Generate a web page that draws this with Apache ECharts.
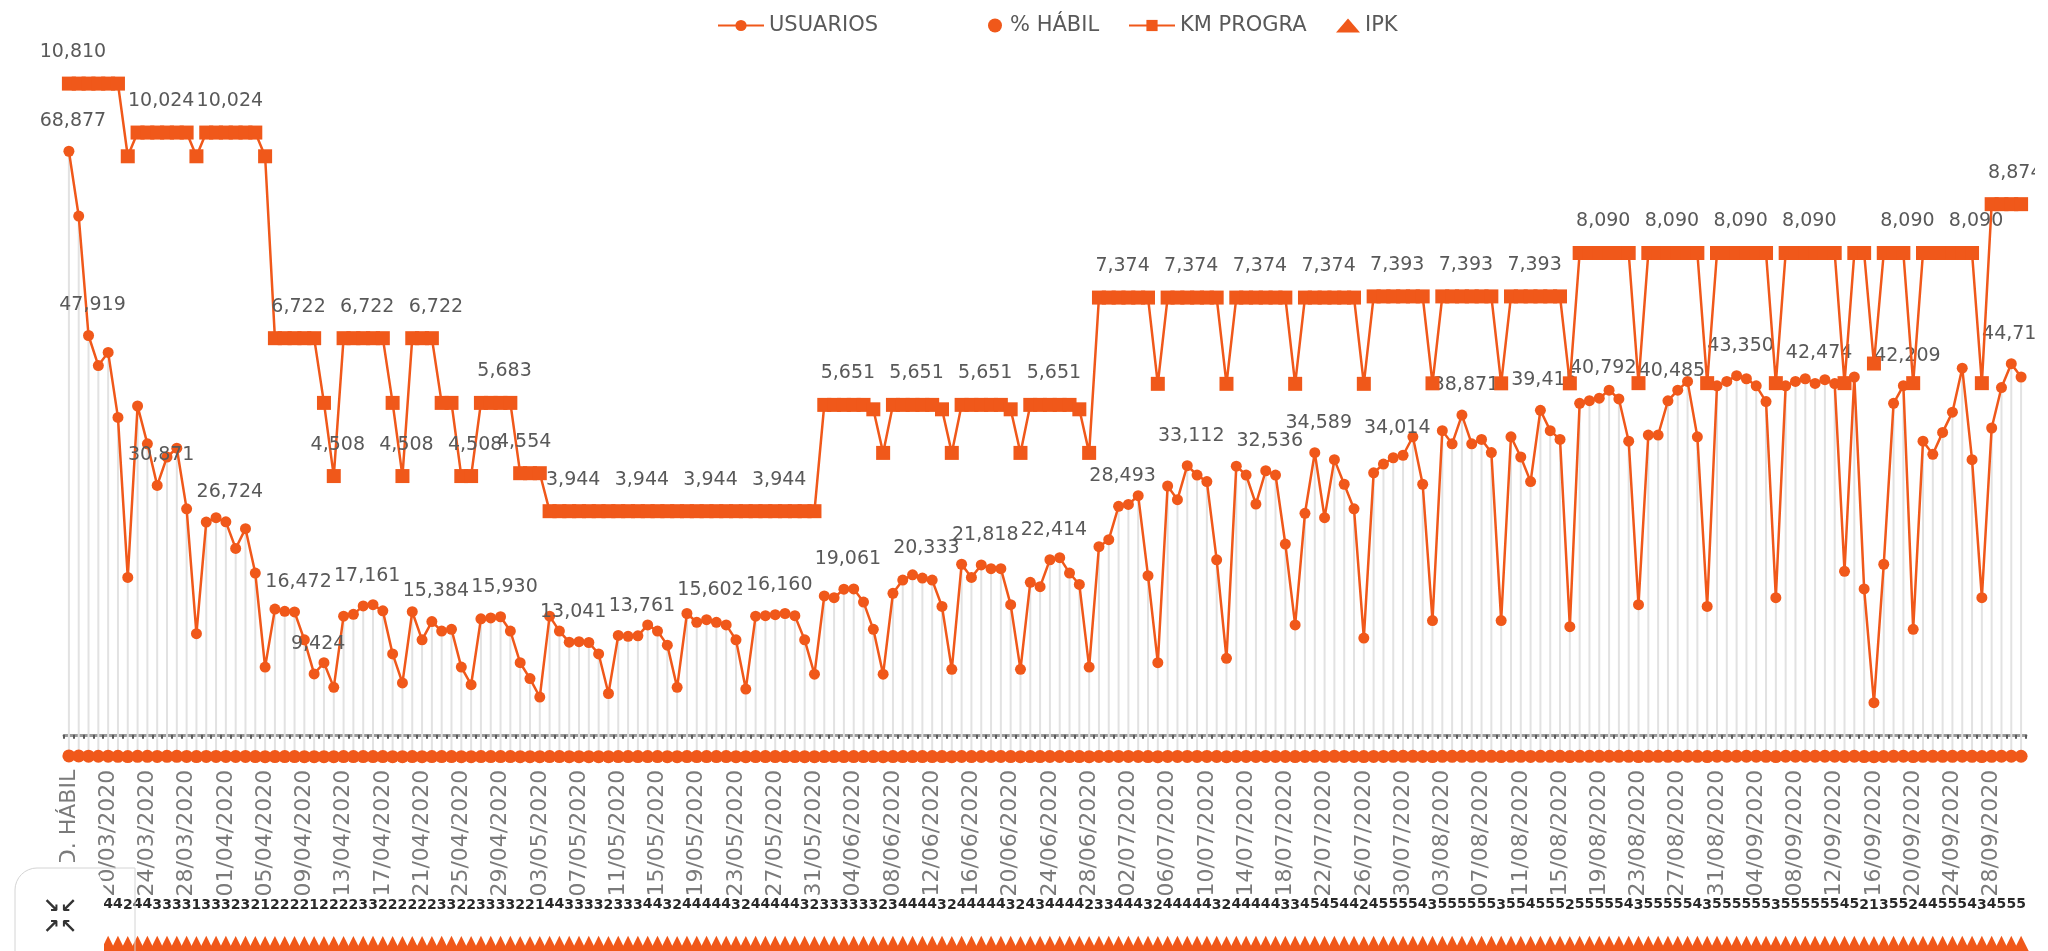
<!DOCTYPE html>
<html>
<head>
<meta charset="utf-8">
<script src="https://cdn.jsdelivr.net/npm/echarts@6/dist/echarts.min.js"></script>
<style>
  html, body { margin: 0; padding: 0; background: #ffffff; }
  #chart { width: 2035px; height: 951px; }
</style>
</head>
<body>
<div id="chart"></div>
<script>
// Categories: weekday average first, then one entry per day
const CATEGORIES = ['PROM. D. HÁBIL',
  '17/03/2020','18/03/2020','19/03/2020','20/03/2020','21/03/2020','22/03/2020','23/03/2020','24/03/2020','25/03/2020','26/03/2020','27/03/2020','28/03/2020','29/03/2020','30/03/2020','31/03/2020',
  '01/04/2020','02/04/2020','03/04/2020','04/04/2020','05/04/2020','06/04/2020','07/04/2020','08/04/2020','09/04/2020','10/04/2020','11/04/2020','12/04/2020','13/04/2020','14/04/2020','15/04/2020',
  '16/04/2020','17/04/2020','18/04/2020','19/04/2020','20/04/2020','21/04/2020','22/04/2020','23/04/2020','24/04/2020','25/04/2020','26/04/2020','27/04/2020','28/04/2020','29/04/2020','30/04/2020',
  '01/05/2020','02/05/2020','03/05/2020','04/05/2020','05/05/2020','06/05/2020','07/05/2020','08/05/2020','09/05/2020','10/05/2020','11/05/2020','12/05/2020','13/05/2020','14/05/2020','15/05/2020',
  '16/05/2020','17/05/2020','18/05/2020','19/05/2020','20/05/2020','21/05/2020','22/05/2020','23/05/2020','24/05/2020','25/05/2020','26/05/2020','27/05/2020','28/05/2020','29/05/2020','30/05/2020','31/05/2020',
  '01/06/2020','02/06/2020','03/06/2020','04/06/2020','05/06/2020','06/06/2020','07/06/2020','08/06/2020','09/06/2020','10/06/2020','11/06/2020','12/06/2020','13/06/2020','14/06/2020','15/06/2020',
  '16/06/2020','17/06/2020','18/06/2020','19/06/2020','20/06/2020','21/06/2020','22/06/2020','23/06/2020','24/06/2020','25/06/2020','26/06/2020','27/06/2020','28/06/2020','29/06/2020','30/06/2020',
  '01/07/2020','02/07/2020','03/07/2020','04/07/2020','05/07/2020','06/07/2020','07/07/2020','08/07/2020','09/07/2020','10/07/2020','11/07/2020','12/07/2020','13/07/2020','14/07/2020','15/07/2020',
  '16/07/2020','17/07/2020','18/07/2020','19/07/2020','20/07/2020','21/07/2020','22/07/2020','23/07/2020','24/07/2020','25/07/2020','26/07/2020','27/07/2020','28/07/2020','29/07/2020','30/07/2020','31/07/2020',
  '01/08/2020','02/08/2020','03/08/2020','04/08/2020','05/08/2020','06/08/2020','07/08/2020','08/08/2020','09/08/2020','10/08/2020','11/08/2020','12/08/2020','13/08/2020','14/08/2020','15/08/2020',
  '16/08/2020','17/08/2020','18/08/2020','19/08/2020','20/08/2020','21/08/2020','22/08/2020','23/08/2020','24/08/2020','25/08/2020','26/08/2020','27/08/2020','28/08/2020','29/08/2020','30/08/2020','31/08/2020',
  '01/09/2020','02/09/2020','03/09/2020','04/09/2020','05/09/2020','06/09/2020','07/09/2020','08/09/2020','09/09/2020','10/09/2020','11/09/2020','12/09/2020','13/09/2020','14/09/2020','15/09/2020',
  '16/09/2020','17/09/2020','18/09/2020','19/09/2020','20/09/2020','21/09/2020','22/09/2020','23/09/2020','24/09/2020','25/09/2020','26/09/2020','27/09/2020','28/09/2020','29/09/2020','30/09/2020',
  '01/10/2020'];

// Daily riders
const USUARIOS = [
  68877,61500,47919,44500,46000,38600,20400,39900,35600,30871,
  34100,35100,28200,14000,26700,27200,26724,23700,25950,20900,
  10200,16800,16550,16472,13300,9424,10700,7900,16000,16200,
  17161,17300,16600,11700,8400,16500,13300,15384,14300,14500,
  10200,8200,15700,15800,15930,14300,10700,8900,6800,16000,
  14300,13041,13100,13000,11700,7200,13800,13700,13761,15000,
  14300,12700,7900,16300,15300,15602,15300,15000,13300,7700,
  16000,16050,16160,16300,16050,13300,9400,18300,18100,19061,
  19100,17600,14500,9400,18600,20100,20700,20333,20100,17100,
  9950,21900,20400,21818,21400,21400,17300,9950,19850,19350,
  22414,22650,20900,19600,10200,23900,24700,28493,28700,29700,
  20600,10700,30800,29250,33112,32050,31300,22400,11200,33060,
  32050,28750,32536,32050,24200,15000,27700,34589,27200,33800,
  31000,28200,13500,32300,33300,34014,34300,36400,31000,15500,
  37100,35600,38871,35600,36100,34600,15500,36400,34100,31300,
  39415,37100,36100,14800,40200,40500,40792,41700,40700,35900,
  17300,36600,36600,40485,41700,42700,36400,17100,42200,42700,
  43350,43000,42200,40400,18100,42200,42700,43000,42474,42900,
  42450,21100,43200,19100,6150,21900,40200,42209,14500,35900,
  34400,36900,39200,44200,33800,18100,37400,42000,44714,43200];

// Scheduled kilometres
const KM_PROGRA = [
  10810,10810,10810,10810,10810,10810,9643,10024,10024,10024,
  10024,10024,10024,9643,10024,10024,10024,10024,10024,10024,
  9643,6722,6722,6722,6722,6722,5683,4508,6722,6722,
  6722,6722,6722,5683,4508,6722,6722,6722,5683,5683,
  4508,4508,5683,5683,5683,5683,4554,4554,4554,3944,
  3944,3944,3944,3944,3944,3944,3944,3944,3944,3944,
  3944,3944,3944,3944,3944,3944,3944,3944,3944,3944,
  3944,3944,3944,3944,3944,3944,3944,5651,5651,5651,
  5651,5651,5580,4880,5651,5651,5651,5651,5651,5580,
  4880,5651,5651,5651,5651,5651,5580,4880,5651,5651,
  5651,5651,5651,5580,4880,7374,7374,7374,7374,7374,
  7374,5989,7374,7374,7374,7374,7374,7374,5989,7374,
  7374,7374,7374,7374,7374,5989,7374,7374,7374,7374,
  7374,7374,5989,7393,7393,7393,7393,7393,7393,5997,
  7393,7393,7393,7393,7393,7393,5997,7393,7393,7393,
  7393,7393,7393,5997,8090,8090,8090,8090,8090,8090,
  6000,8090,8090,8090,8090,8090,8090,6000,8090,8090,
  8090,8090,8090,8090,6000,8090,8090,8090,8090,8090,
  8090,6000,8090,8090,6315,8090,8090,8090,6000,8090,
  8090,8090,8090,8090,8090,6000,8874,8874,8874,8874];

// Share of the average weekday (%)
const PCT_HABIL = [
  100,89,70,65,67,56,30,58,52,45,
  50,51,41,20,39,39,39,34,38,30,
  15,24,24,24,19,14,16,11,23,24,
  25,25,24,17,12,24,19,22,21,21,
  15,12,23,23,23,21,16,13,10,23,
  21,19,19,19,17,10,20,20,20,22,
  21,18,11,24,22,23,22,22,19,11,
  23,23,23,24,23,19,14,27,26,28,
  28,26,21,14,27,29,30,30,29,25,
  14,32,30,32,31,31,25,14,29,28,
  33,33,30,28,15,35,36,41,42,43,
  30,16,45,42,48,47,45,33,16,48,
  47,42,47,47,35,22,40,50,39,49,
  45,41,20,47,48,49,50,53,45,23,
  54,52,56,52,52,50,23,53,50,45,
  57,54,52,21,58,59,59,61,59,52,
  25,53,53,59,61,62,53,25,61,62,
  63,62,61,59,26,61,62,62,62,62,
  62,31,63,28,9,32,58,61,21,52,
  50,54,57,64,49,26,54,61,65,63];

// Passengers per kilometre
const IPK = [
  6,6,4,4,4,4,2,4,4,3,
  3,3,3,1,3,3,3,2,3,2,
  1,2,2,2,2,1,2,2,2,2,
  3,3,2,2,2,2,2,2,3,3,
  2,2,3,3,3,3,2,2,1,4,
  4,3,3,3,3,2,3,3,3,4,
  4,3,2,4,4,4,4,4,3,2,
  4,4,4,4,4,3,2,3,3,3,
  3,3,3,2,3,4,4,4,4,3,
  2,4,4,4,4,4,3,2,4,3,
  4,4,4,4,2,3,3,4,4,4,
  3,2,4,4,4,4,4,3,2,4,
  4,4,4,4,3,3,4,5,4,5,
  4,4,2,4,5,5,5,5,4,3,
  5,5,5,5,5,5,3,5,5,4,
  5,5,5,2,5,5,5,5,5,4,
  3,5,5,5,5,5,4,3,5,5,
  5,5,5,5,3,5,5,5,5,5,
  5,4,5,2,1,3,5,5,2,4,
  4,5,5,5,4,3,4,5,5,5];

// Points whose value is written on the chart
const USU_LABELS = [0,2,9,16,23,25,30,37,44,51,58,65,72,79,87,93,100,107,114,122,127,135,142,150,156,163,170,178,187,198];
const KM_LABELS = [0,9,16,23,27,30,34,37,41,44,46,51,58,65,72,79,86,93,100,107,114,121,128,135,142,149,156,163,170,177,187,194,198];

const ORANGE = '#F0581A';
const FONT = 'DejaVu Sans';
const fmt = v => String(v).replace(/\B(?=(\d{3})+(?!\d))/g, ',');

const withLabels = (values, idx) => values.map((v, i) =>
  idx.includes(i) ? { value: v, label: { show: true } } : v);

const GRID_LEFT = 64, GRID_WIDTH = 1962;

const chart = echarts.init(document.getElementById('chart'), null, { renderer: 'canvas' });

const legendBase = {
  top: 10, itemHeight: 14, itemGap: 0,
  textStyle: { fontFamily: FONT, fontSize: 21, color: '#595959' },
  selectedMode: false
};

const valueLabel = {
  show: false, position: 'top', distance: 15, offset: [4, 0],
  fontFamily: FONT, fontSize: 19, color: '#595959',
  formatter: p => fmt(p.value)
};

chart.setOption({
  animation: false,
  backgroundColor: '#ffffff',
  legend: [
    Object.assign({}, legendBase, { left: 712, itemWidth: 46, data: ['USUARIOS'] }),
    Object.assign({}, legendBase, { left: 983, itemWidth: 20, data: ['% HÁBIL'] }),
    Object.assign({}, legendBase, { left: 1123, itemWidth: 46, data: ['KM PROGRA'] }),
    Object.assign({}, legendBase, { left: 1331, itemWidth: 24, data: ['IPK'] })
  ],
  grid: [
    { left: GRID_LEFT, width: GRID_WIDTH, top: 9.5, height: 747.3, outerBoundsMode: 'none', containLabel: false },
    { left: GRID_LEFT, width: GRID_WIDTH, top: 900, height: 46, outerBoundsMode: 'none', containLabel: false }
  ],
  xAxis: [
    {
      type: 'category', gridIndex: 0, data: CATEGORIES, boundaryGap: true,
      axisLine: { show: false }, axisTick: { show: false },
      axisLabel: {
        interval: 3, rotate: 90, margin: 13,
        fontFamily: FONT, fontSize: 22, color: '#7a7a7a'
      }
    },
    {
      type: 'category', gridIndex: 0, data: CATEGORIES, position: 'bottom', offset: -22,
      axisLine: { show: true, lineStyle: { color: '#9a9a9a', width: 3 } },
      axisTick: { show: true, interval: 0, length: 4, lineStyle: { color: '#5a5a5a', width: 2 } },
      axisLabel: { show: false }
    },
    {
      type: 'category', gridIndex: 1, data: CATEGORIES,
      axisLine: { show: false }, axisTick: { show: false }, axisLabel: { show: false }
    }
  ],
  yAxis: [
    { type: 'value', gridIndex: 0, min: 0, max: 85000, show: false, splitLine: { show: false } },
    { type: 'value', gridIndex: 0, min: 0, max: 12000, show: false, splitLine: { show: false } },
    { type: 'value', gridIndex: 1, min: 0, max: 1000, show: false, splitLine: { show: false } }
  ],
  graphic: [
    {
      type: 'rect', z: 100,
      shape: { x: -2, y: 862, width: 106, height: 95, r: [0, 30, 0, 0] },
      style: { fill: '#ffffff' }
    },
    {
      type: 'rect', z: 101,
      shape: { x: 15, y: 868, width: 120, height: 100, r: [22, 0, 0, 0] },
      style: { fill: 'none', stroke: '#d4d4d4', lineWidth: 1 }
    },
    {
      type: 'text', z: 102, x: 60, y: 917,
      style: {
        text: '↘↙\n↗↖', fill: '#333333', align: 'center', verticalAlign: 'middle',
        font: 'bold 20px "DejaVu Sans"', lineHeight: 21
      }
    }
  ],
  series: [
    {
      name: 'líneas de caída', type: 'bar', xAxisIndex: 0, yAxisIndex: 0,
      data: USUARIOS, barWidth: 2, silent: true, z: 1,
      itemStyle: { color: '#e2e2e2' }
    },
    {
      name: '% HÁBIL', type: 'scatter', xAxisIndex: 0, yAxisIndex: 0,
      data: PCT_HABIL, symbol: 'circle', symbolSize: 13, z: 3,
      itemStyle: { color: ORANGE, opacity: 1 }
    },
    {
      name: 'USUARIOS', type: 'line', xAxisIndex: 0, yAxisIndex: 0,
      data: withLabels(USUARIOS, USU_LABELS),
      symbol: 'circle', symbolSize: 11, showSymbol: true, showAllSymbol: true, z: 4,
      lineStyle: { color: ORANGE, width: 2.5 },
      itemStyle: { color: ORANGE },
      label: valueLabel
    },
    {
      name: 'KM PROGRA', type: 'line', xAxisIndex: 0, yAxisIndex: 1,
      data: withLabels(KM_PROGRA, KM_LABELS),
      symbol: 'rect', symbolSize: 14, showSymbol: true, showAllSymbol: true, z: 5,
      lineStyle: { color: ORANGE, width: 2.5 },
      itemStyle: { color: ORANGE },
      label: valueLabel
    },
    {
      name: 'IPK', type: 'scatter', xAxisIndex: 2, yAxisIndex: 2,
      data: IPK, symbol: 'triangle', symbolSize: 20, z: 3,
      itemStyle: { color: ORANGE, opacity: 1 },
      label: {
        show: true, position: 'top', distance: 24,
        fontFamily: FONT, fontSize: 14, fontWeight: 'bold', color: '#2a2a2a'
      }
    }
  ]
});
</script>
</body>
</html>
